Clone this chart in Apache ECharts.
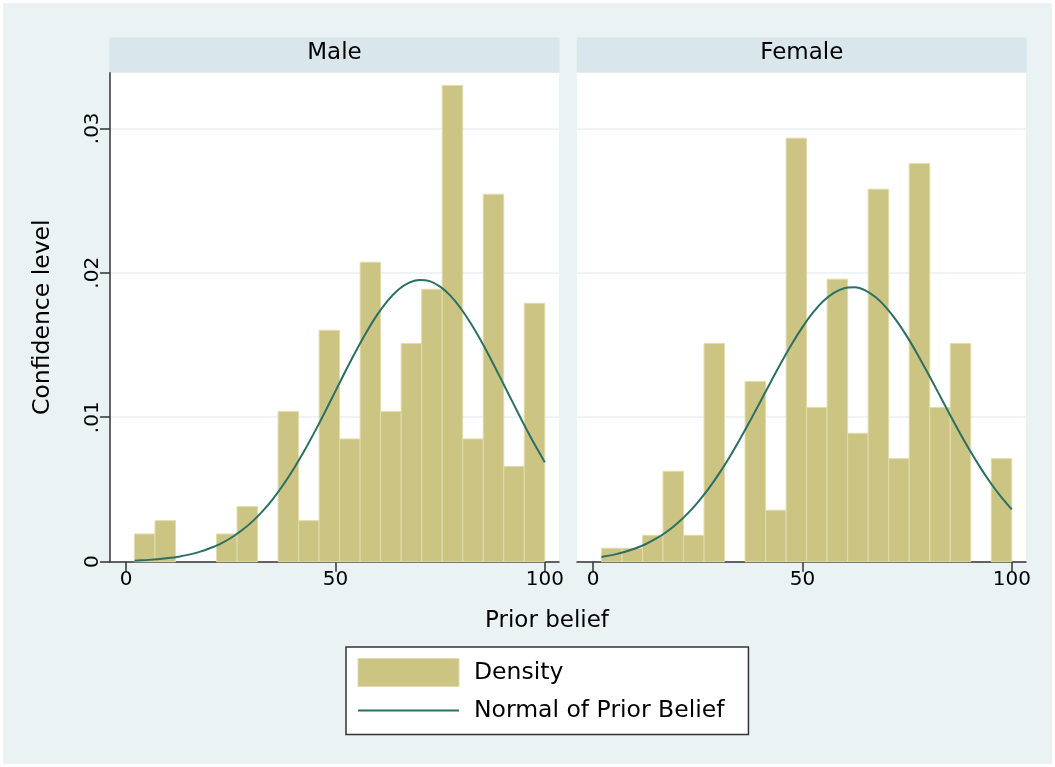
<!DOCTYPE html>
<html>
<head>
<meta charset="utf-8">
<script src="https://cdn.jsdelivr.net/npm/echarts@6/dist/echarts.min.js"></script>
<style>
  html, body { margin: 0; padding: 0; background: #ffffff; }
  #chart { width: 1055px; height: 767px; }
</style>
</head>
<body>
<div id="chart"></div>
<script>
// ---- data ----
const panels = ['Male', 'Female'];
const binEdges = [2, 6.9, 11.8, 16.7, 21.6, 26.5, 31.4, 36.3, 41.2, 46.1, 51, 55.9, 60.8, 65.7, 70.6, 75.5, 80.4, 85.3, 90.2, 95.1, 100];
const maleDensity = [0.00192, 0.00284, 0, 0, 0.00192, 0.00381, 0, 0.01039, 0.00284, 0.01602, 0.0085, 0.02073, 0.01039, 0.0151, 0.01886, 0.03297, 0.0085, 0.02544, 0.0066, 0.01789];
const femaleDensity = [0.00093, 0.00093, 0.00183, 0.00626, 0.00183, 0.0151, 0, 0.01247, 0.00356, 0.02932, 0.01067, 0.01956, 0.00889, 0.02579, 0.00713, 0.02756, 0.01067, 0.0151, 0, 0.00713];
const normalX = [2, 5, 7.5, 10, 12.5, 15, 17.5, 20, 22.5, 25, 27.5, 30, 32.5, 35, 37.5, 40, 42.5, 45, 47.5, 50, 52.5, 55, 57.5, 60, 62.5, 65, 67.5, 70, 72.5, 75, 77.5, 80, 82.5, 85, 87.5, 90, 92.5, 95, 97.5, 100];
const maleNormal = [0.00007, 0.00012, 0.00017, 0.00025, 0.00035, 0.00049, 0.00068, 0.00093, 0.00124, 0.00164, 0.00214, 0.00274, 0.00347, 0.00432, 0.00531, 0.00642, 0.00764, 0.00897, 0.01036, 0.01181, 0.01325, 0.01464, 0.01594, 0.0171, 0.01807, 0.01882, 0.0193, 0.0195, 0.01942, 0.01904, 0.0184, 0.01751, 0.01642, 0.01517, 0.01381, 0.01238, 0.01094, 0.00952, 0.00816, 0.00689];
const femaleNormal = [0.00033, 0.00049, 0.00067, 0.00091, 0.00121, 0.00159, 0.00206, 0.00263, 0.00331, 0.00411, 0.00502, 0.00606, 0.0072, 0.00844, 0.00975, 0.01111, 0.01248, 0.01382, 0.01509, 0.01624, 0.01724, 0.01804, 0.01861, 0.01893, 0.01899, 0.01878, 0.0183, 0.01759, 0.01667, 0.01558, 0.01435, 0.01303, 0.01167, 0.0103, 0.00896, 0.00769, 0.00651, 0.00543, 0.00447, 0.00362];
const xTicks = [0, 50, 100];
const yTicks = [0, 0.01, 0.02, 0.03];
const xTitle = 'Prior belief';
const yTitle = 'Confidence level';
const barName = 'Density';
const lineName = 'Normal of Prior Belief';

// ---- styling ----
const FONT = 'DejaVu Sans';
const BG = '#eaf2f3';
const STRIP = '#d9e6eb';
const BAR_FILL = '#cbc482';
const BAR_EDGE = '#e0dcac';
const LINE = '#2b6f65';
const AXIS = '#333333';
const GRIDC = '#e8f0f3';

const gridTop = 72.7, gridH = 489;
const grids = [
  { left: 110, top: gridTop, width: 449, height: gridH, show: true, backgroundColor: '#ffffff', borderWidth: 0 },
  { left: 577, top: gridTop, width: 449, height: gridH, show: true, backgroundColor: '#ffffff', borderWidth: 0 }
];

function binData(dens) {
  const out = [];
  for (let i = 0; i < dens.length; i++) {
    if (dens[i] > 0) out.push([binEdges[i], binEdges[i + 1], dens[i]]);
  }
  return out;
}

function xAxisFor(i) {
  return {
    type: 'value', gridIndex: i, min: -3.85, max: 103.4,
    axisLine: { show: true, onZero: false, lineStyle: { color: AXIS, width: 1.5 } },
    axisTick: { show: true, customValues: xTicks, length: 10, lineStyle: { color: AXIS, width: 1.5 } },
    axisLabel: { show: true, customValues: xTicks, margin: 8, color: '#000', fontFamily: FONT, fontSize: 20 },
    splitLine: { show: false }
  };
}

function yAxisFor(i) {
  const main = i === 0;
  return {
    type: 'value', gridIndex: i, min: 0, max: 0.03385, interval: 0.01,
    name: main ? yTitle : '', nameLocation: 'middle', nameRotate: 90, nameGap: 55,
    nameTextStyle: { fontFamily: FONT, fontSize: 23.5, color: '#000' },
    axisLine: { show: main, onZero: false, lineStyle: { color: AXIS, width: 1.5 } },
    axisTick: { show: main, customValues: yTicks, length: 10, lineStyle: { color: AXIS, width: 1.5 } },
    axisLabel: {
      show: main, customValues: yTicks, rotate: 90, margin: 7, color: '#000', fontFamily: FONT, fontSize: 20,
      formatter: v => (v === 0 ? '0' : String(v).replace(/^0\./, '.'))
    },
    splitLine: { show: true, lineStyle: { color: GRIDC, width: 1.5 } }
  };
}

function barSeries(i, dens) {
  return {
    type: 'custom', name: barName, xAxisIndex: i, yAxisIndex: i, z: 2,
    itemStyle: { color: BAR_FILL, borderColor: BAR_EDGE, borderWidth: 1 },
    encode: { x: [0, 1], y: 2 },
    data: binData(dens),
    renderItem: function (params, api) {
      const p0 = api.coord([api.value(0), api.value(2)]);
      const p1 = api.coord([api.value(1), 0]);
      return {
        type: 'rect',
        shape: { x: p0[0], y: p0[1], width: p1[0] - p0[0], height: p1[1] - p0[1] },
        style: { fill: BAR_FILL, stroke: BAR_EDGE, lineWidth: 1 }
      };
    }
  };
}

function lineSeries(i, vals) {
  return {
    type: 'line', name: lineName, xAxisIndex: i, yAxisIndex: i, z: 3,
    smooth: 0.3, symbol: 'none', showSymbol: false,
    lineStyle: { color: LINE, width: 2 }, itemStyle: { color: LINE },
    data: normalX.map((x, k) => [x, vals[k]])
  };
}

const stripY = 37.5, stripH = 35;
const graphics = [
  { type: 'rect', z: -10, silent: true, shape: { x: 3, y: 3, width: 1049, height: 761 }, style: { fill: BG } },
  { type: 'rect', silent: true, shape: { x: 109.5, y: stripY, width: 450, height: stripH }, style: { fill: STRIP } },
  { type: 'rect', silent: true, shape: { x: 576.7, y: stripY, width: 450, height: stripH }, style: { fill: STRIP } },
  { type: 'text', silent: true, x: 334.5, y: 53, style: { text: panels[0], fill: '#000', font: '23px "DejaVu Sans"', align: 'center', verticalAlign: 'middle' } },
  { type: 'text', silent: true, x: 801.8, y: 53, style: { text: panels[1], fill: '#000', font: '23px "DejaVu Sans"', align: 'center', verticalAlign: 'middle' } },
  { type: 'text', silent: true, x: 547, y: 621.5, style: { text: xTitle, fill: '#000', font: '23px "DejaVu Sans"', align: 'center', verticalAlign: 'middle' } }
];

const chart = echarts.init(document.getElementById('chart'));
chart.setOption({
  backgroundColor: '#ffffff',
  animation: false,
  grid: grids,
  xAxis: [xAxisFor(0), xAxisFor(1)],
  yAxis: [yAxisFor(0), yAxisFor(1)],
  legend: {
    orient: 'vertical', left: 346, top: 647,
    backgroundColor: '#ffffff', borderColor: '#333333', borderWidth: 1.5,
    padding: [11, 24, 12, 11], itemGap: 11.5, itemWidth: 101, itemHeight: 28,
    textStyle: { fontFamily: FONT, fontSize: 23.5, color: '#000', padding: [4, 0, 0, 10] },
    selectedMode: false,
    data: [
      { name: barName, icon: 'rect', itemStyle: { color: BAR_FILL, borderColor: BAR_EDGE, borderWidth: 1 } },
      { name: lineName, itemStyle: { color: 'rgba(0,0,0,0)', borderWidth: 0, opacity: 0 } }
    ]
  },
  graphic: graphics,
  series: [
    barSeries(0, maleDensity), barSeries(1, femaleDensity),
    lineSeries(0, maleNormal), lineSeries(1, femaleNormal)
  ]
});
</script>
</body>
</html>
